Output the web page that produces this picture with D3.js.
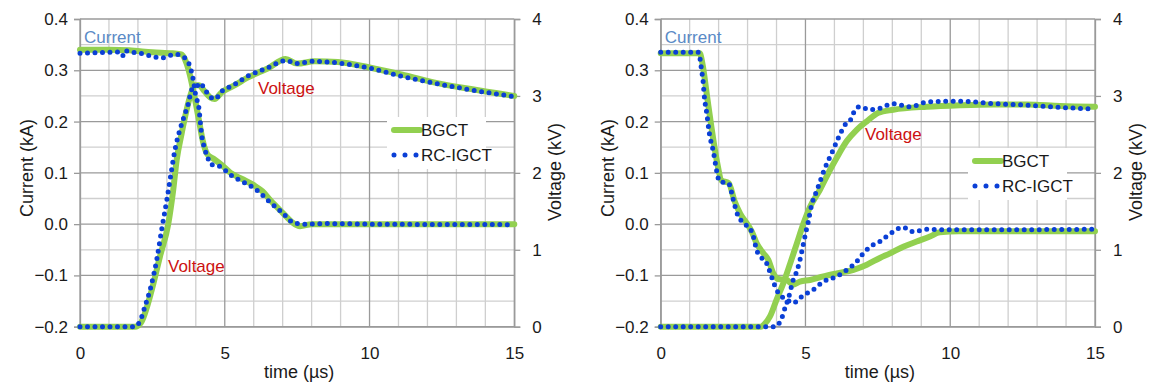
<!DOCTYPE html>
<html>
<head>
<meta charset="utf-8">
<script src="https://cdn.jsdelivr.net/npm/d3@7"></script>
<style>
  body { margin: 0; background: #fff; }
  svg text { font-family: "Liberation Sans", Arial, sans-serif; }
</style>
</head>
<body>
<svg id="chart" width="1149" height="383"></svg>
<script>
// time axis and tick labels
const timeTicks = [0, 5, 10, 15];
const currentTicks = [-0.2, -0.1, 0.0, 0.1, 0.2, 0.3, 0.4];
const voltageTicks = [0, 1, 2, 3, 4];
const seriesNames = ['BGCT', 'RC-IGCT'];

// left chart: [time µs, current kA] and [time µs, voltage kV]
const leftCurrentBGCT = [[0,0.340],[1,0.340],[1.7,0.339],[2.5,0.335],[3.2,0.333],[3.5,0.331],[3.65,0.318],
  [3.8,0.29],[3.95,0.25],[4.1,0.205],[4.25,0.16],[4.4,0.136],[4.6,0.128],[4.9,0.115],[5.2,0.100],[5.6,0.088],
  [6.0,0.076],[6.3,0.064],[6.6,0.045],[7.0,0.022],[7.3,0.005],[7.6,-0.004],[8.0,0.0],[9,0.0],[15,0.0]];
const leftCurrentRC = [[0,0.333],[1,0.335],[1.4,0.336],[1.5,0.328],[1.58,0.338],[1.7,0.335],[2,0.334],[2.5,0.327],
  [2.8,0.324],[3.3,0.331],[3.6,0.325],[3.8,0.307],[3.9,0.285],[4.0,0.25],[4.1,0.229],[4.2,0.175],[4.3,0.148],
  [4.4,0.132],[4.5,0.117],[4.85,0.112],[5.2,0.096],[5.5,0.086],[5.9,0.074],[6.2,0.062],[6.5,0.046],[7.0,0.022],
  [7.4,0.002],[7.8,0.0],[8.5,0.001],[10,0.0],[15,-0.001]];
const leftVoltageBGCT = [[0,0.0],[1.9,0.0],[2.1,0.05],[2.48,0.48],[2.76,0.91],[3.05,1.34],[3.22,1.78],[3.34,2.17],
  [3.51,2.51],[3.63,2.73],[3.8,2.99],[3.97,3.14],[4.1,3.14],[4.3,3.06],[4.5,2.98],[4.65,2.96],[4.9,3.05],[5.3,3.13],
  [5.8,3.24],[6.5,3.36],[7.1,3.48],[7.5,3.42],[8.1,3.45],[8.9,3.44],[10,3.37],[11.2,3.27],[12.3,3.17],[13.5,3.09],[15,3.0]];
const leftVoltageRC = [[0,0],[1.85,0],[2.0,0.03],[2.07,0.07],[2.24,0.26],[2.42,0.48],[2.65,0.87],[2.82,1.26],
  [3.0,1.65],[3.11,1.91],[3.28,2.30],[3.45,2.56],[3.63,2.77],[3.74,2.9],[3.86,3.08],[4.03,3.12],[4.14,3.17],
  [4.32,3.08],[4.49,2.99],[4.66,2.96],[4.9,3.06],[5.3,3.14],[5.76,3.25],[6.45,3.36],[7.14,3.46],[7.48,3.42],
  [8.06,3.45],[8.87,3.43],[10.02,3.36],[11.17,3.25],[12.32,3.16],[13.48,3.08],[15,2.99]];

// right chart
const rightCurrentBGCT = [[0,0.333],[1.35,0.333],[1.45,0.31],[1.6,0.25],[1.75,0.19],[1.95,0.12],[2.1,0.085],
  [2.35,0.08],[2.55,0.045],[2.75,0.02],[2.97,0.002],[3.15,-0.015],[3.31,-0.037],[3.55,-0.057],[3.72,-0.07],
  [3.89,-0.096],[4.06,-0.107],[4.35,-0.109],[4.58,-0.118],[4.81,-0.112],[5.16,-0.109],[5.62,-0.102],[6.08,-0.096],
  [6.66,-0.089],[7.12,-0.079],[7.57,-0.066],[7.92,-0.057],[8.38,-0.044],[8.84,-0.034],[9.3,-0.024],[9.64,-0.016],
  [10.3,-0.014],[15,-0.014]];
const rightCurrentRC = [[0,0.335],[1.3,0.335],[1.42,0.297],[1.47,0.275],[1.5,0.253],[1.59,0.216],[1.68,0.177],
  [1.82,0.141],[1.94,0.102],[2.03,0.083],[2.34,0.08],[2.51,0.047],[2.62,0.024],[2.85,0.002],[3.08,-0.008],
  [3.2,-0.024],[3.31,-0.05],[3.49,-0.066],[3.6,-0.07],[3.77,-0.093],[3.89,-0.112],[4.0,-0.128],[4.18,-0.141],
  [4.35,-0.147],[4.58,-0.154],[4.81,-0.144],[5.04,-0.135],[5.27,-0.128],[5.62,-0.112],[6.08,-0.102],[6.43,-0.089],
  [6.77,-0.073],[7.0,-0.057],[7.23,-0.044],[7.57,-0.034],[7.8,-0.024],[8.03,-0.015],[8.36,-0.006],[8.73,-0.015],
  [9.19,-0.010],[9.77,-0.011],[11.5,-0.011],[15,-0.010]];
const rightVoltageBGCT = [[0,0],[3.45,0],[3.6,0.04],[3.77,0.13],[4.0,0.35],[4.23,0.56],[4.47,0.82],[4.7,1.08],
  [4.93,1.34],[5.16,1.56],[5.5,1.78],[5.85,2.04],[6.13,2.23],[6.42,2.41],[6.77,2.56],[7.12,2.67],[7.52,2.78],
  [8.03,2.82],[9.19,2.86],[10.35,2.88],[11.5,2.89],[12.64,2.89],[13.79,2.87],[15,2.86]];
const rightVoltageRC = [[0,0],[3.95,0],[4.06,0.03],[4.18,0.11],[4.29,0.24],[4.41,0.37],[4.58,0.61],[4.72,0.74],
  [4.81,0.87],[4.93,1.08],[5.02,1.24],[5.1,1.37],[5.21,1.58],[5.33,1.71],[5.44,1.82],[5.67,2.06],[5.9,2.25],
  [6.13,2.45],[6.36,2.62],[6.59,2.71],[6.71,2.82],[6.88,2.86],[7.23,2.82],[7.57,2.84],[8.03,2.90],[8.61,2.86],
  [9.19,2.92],[9.77,2.93],[10.35,2.93],[11.5,2.90],[12.64,2.88],[13.79,2.85],[15,2.83]];

const green = '#92d050';
const blue = '#0a3fd6';

const svg = d3.select('#chart');

function drawChart(cfg) {
    const x = d3.scaleLinear().domain([0, 15]).range([cfg.left, cfg.right]);
    const yI = d3.scaleLinear().domain([-0.2, 0.4]).range([326.7, 19]);
    const yV = d3.scaleLinear().domain([0, 4]).range([326.7, 19]);
    const g = svg.append('g');

    // grid, minor then major
    const minorX = d3.range(0, 16, 1).filter(d => d % 5 !== 0);
    const minorY = d3.range(-0.15, 0.4, 0.1);
    g.selectAll('.gxm').data(minorX).enter().append('line')
        .attr('x1', d => x(d)).attr('x2', d => x(d)).attr('y1', yI(0.4)).attr('y2', yI(-0.2))
        .attr('stroke', '#cfcfcf').attr('stroke-width', 1.3);
    g.selectAll('.gym').data(minorY).enter().append('line')
        .attr('x1', x(0)).attr('x2', x(15)).attr('y1', d => yI(d)).attr('y2', d => yI(d))
        .attr('stroke', '#cfcfcf').attr('stroke-width', 1.3);
    g.selectAll('.gx').data(timeTicks).enter().append('line')
        .attr('x1', d => x(d)).attr('x2', d => x(d)).attr('y1', yI(0.4)).attr('y2', yI(-0.2))
        .attr('stroke', '#9a9a9a').attr('stroke-width', 1.3);
    g.selectAll('.gy').data(currentTicks).enter().append('line')
        .attr('x1', x(0)).attr('x2', x(15)).attr('y1', d => yI(d)).attr('y2', d => yI(d))
        .attr('stroke', '#9a9a9a').attr('stroke-width', 1.3);

    // axes
    const leftAxis = d3.axisLeft(yI).tickValues(currentTicks).tickSize(6).tickPadding(6)
        .tickFormat(d3.format('.1f'));
    const rightAxis = d3.axisRight(yV).tickValues(voltageTicks).tickSize(6).tickPadding(12)
        .tickFormat(d3.format('d'));
    const bottomAxis = d3.axisBottom(x).tickValues(timeTicks).tickSize(0).tickPadding(20);

    [[leftAxis, `translate(${cfg.left},0)`], [rightAxis, `translate(${cfg.right},0)`],
     [bottomAxis, 'translate(0,326.7)']].forEach(([ax, tr]) => {
        const a = g.append('g').attr('transform', tr).call(ax);
        a.select('.domain').attr('stroke', '#9a9a9a').attr('stroke-width', 1.3);
        a.selectAll('.tick line').attr('stroke', '#9a9a9a').attr('stroke-width', 1.3);
        a.selectAll('text').attr('font-size', 17).attr('fill', '#1a1a1a')
            .attr('font-family', '"Liberation Sans", Arial, sans-serif');
    });

    // series
    const lineI = d3.line().x(d => x(d[0])).y(d => yI(d[1])).curve(d3.curveMonotoneX);
    const lineV = d3.line().x(d => x(d[0])).y(d => yV(d[1])).curve(d3.curveMonotoneX);
    const greenStyle = p => p.attr('fill', 'none').attr('stroke', green).attr('stroke-width', 6)
        .attr('stroke-linejoin', 'round').attr('stroke-linecap', 'round');
    const blueStyle = p => p.attr('fill', 'none').attr('stroke', blue).attr('stroke-width', 5)
        .attr('stroke-linecap', 'round').attr('stroke-dasharray', '0 7.5');

    g.append('path').attr('d', lineI(cfg.curB)).call(greenStyle);
    g.append('path').attr('d', lineV(cfg.volB)).call(greenStyle);
    g.append('path').attr('d', lineI(cfg.curR)).call(blueStyle);
    g.append('path').attr('d', lineV(cfg.volR)).call(blueStyle);

    // axis titles
    const mid = (cfg.left + cfg.right) / 2;
    g.append('text').attr('x', mid + 2).attr('y', 378).attr('text-anchor', 'middle')
        .attr('font-size', 18).attr('fill', '#1a1a1a').text('time (µs)');
    g.append('text').attr('transform', `translate(${cfg.left - 47},168) rotate(-90)`)
        .attr('text-anchor', 'middle').attr('font-size', 18).attr('fill', '#1a1a1a').text('Current (kA)');
    g.append('text').attr('transform', `translate(${cfg.right + 47},172) rotate(-90)`)
        .attr('text-anchor', 'middle').attr('font-size', 18).attr('fill', '#1a1a1a').text('Voltage (kV)');

    // annotations
    g.append('text').attr('x', cfg.left + 4).attr('y', 43).attr('font-size', 17)
        .attr('fill', '#5a8ac6').text('Current');
    cfg.voltLabels.forEach(p => {
        g.append('text').attr('x', p[0]).attr('y', p[1]).attr('font-size', 17)
            .attr('fill', '#cc1111').text('Voltage');
    });

    // legend
    const lg = g.append('g').attr('transform', `translate(${cfg.legend[0]},${cfg.legend[1]})`);
    lg.append('rect').attr('width', 99).attr('height', 52).attr('fill', '#fff');
    const items = lg.selectAll('.item').data(seriesNames).enter().append('g')
        .attr('transform', (d, i) => `translate(0,${13 + i * 25})`);
    items.append('line').attr('x1', 7).attr('x2', 33).attr('y1', 0).attr('y2', 0)
        .each(function (d, i) {
            const s = d3.select(this);
            if (i === 0) s.call(greenStyle);
            else s.attr('stroke', blue).attr('stroke-width', 5).attr('stroke-linecap', 'round')
                .attr('stroke-dasharray', '0 11');
        });
    items.append('text').attr('x', 34).attr('y', 6).attr('font-size', 17).attr('fill', '#1a1a1a')
        .text(d => d);
}

drawChart({ left: 80, right: 514.3, curB: leftCurrentBGCT, curR: leftCurrentRC,
    volB: leftVoltageBGCT, volR: leftVoltageRC, voltLabels: [[258, 94], [168, 272]], legend: [387, 117] });
drawChart({ left: 660.7, right: 1095, curB: rightCurrentBGCT, curR: rightCurrentRC,
    volB: rightVoltageBGCT, volR: rightVoltageRC, voltLabels: [[865, 140]], legend: [968, 148] });
</script>
</body>
</html>
